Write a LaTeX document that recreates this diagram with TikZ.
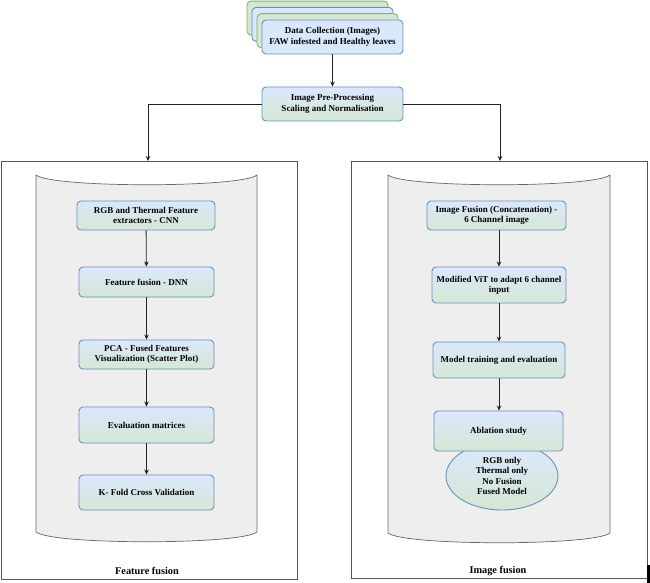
\documentclass[tikz,border=0pt]{standalone}
\usepackage{fontspec}
\setmainfont{Liberation Serif}
\usetikzlibrary{arrows.meta,shapes.geometric}
\definecolor{bluefill}{HTML}{DAE8FC}
\definecolor{blueline}{HTML}{6C8EBF}
\definecolor{greenfill}{HTML}{D5E8D4}
\definecolor{greenline}{HTML}{82B366}
\definecolor{cylfill}{HTML}{EEEEEE}
\definecolor{cylline}{HTML}{666666}
\definecolor{panelline}{HTML}{555555}
\definecolor{conn}{HTML}{222222}
\newcommand{\boxfont}{\fontsize{9}{10.4}\selectfont\bfseries}
\tikzset{
  x=1pt, y=-1pt,
  gbox/.style={draw=blueline, line width=0.9pt, rounded corners=4pt,
    top color=bluefill, bottom color=greenfill, align=center,
    font=\boxfont, inner sep=1pt},
  stackgreen/.style={draw=greenline, line width=0.9pt, rounded corners=4pt,
    fill=greenfill, minimum width=141pt, minimum height=34pt},
  stackblue/.style={draw=blueline, line width=0.9pt, rounded corners=4pt,
    fill=bluefill, minimum width=141pt, minimum height=34pt, align=center,
    font=\boxfont, inner sep=1pt},
  ovalbox/.style={ellipse, draw=blueline, line width=0.9pt,
    top color=bluefill, bottom color=greenfill, align=center,
    font=\boxfont, inner sep=0pt},
  cyl/.style={draw=cylline, line width=0.7pt, fill=cylfill},
  panel/.style={draw=panelline, line width=1pt},
  conn/.style={draw=conn, line width=0.8pt, -{Stealth[length=5pt,width=4.5pt]}},
  paneltitle/.style={font=\fontsize{10.3}{12}\selectfont\bfseries}
}
\begin{document}
\begin{tikzpicture}
\useasboundingbox (0,0) rectangle (650,583);
% panels
\draw[panel] (1,161) rectangle (297,579);
\draw[panel] (351,161) rectangle (647,578);
% cylinders
\draw[cyl] (36,175) .. controls (52,188) and (241,188) .. (257,175) -- (257,532)
  .. controls (241,545) and (52,545) .. (36,532) -- cycle;
\draw[cyl] (388,175) .. controls (404,188) and (594,188) .. (610,175) -- (610,533)
  .. controls (594,546) and (404,546) .. (388,533) -- cycle;
% artifact bar
\fill[black] (647,565) rectangle (650,583);
% stacked data boxes
\node[stackgreen] (s1) at (317.5,18.1) {};
\node[stackblue] (s2) at (322.5,24.4) {};
\node[stackgreen] (s3) at (327.5,30.7) {};
\node[stackblue] (data) at (332.5,37) {Data Collection (Images)\\FAW infested and Healthy leaves};
\node[gbox, minimum width=141pt, minimum height=34pt] (pre) at (332.5,104) {Image Pre-Processing\\Scaling and Normalisation};
% left column
\node[gbox, minimum width=138pt, minimum height=29pt] (l1) at (146,215.5) {RGB and Thermal Feature\\extractors - CNN};
\node[gbox, minimum width=135pt, minimum height=30pt] (l2) at (146.5,282) {Feature fusion - DNN};
\node[gbox, minimum width=135pt, minimum height=29pt] (l3) at (146.5,354.5) {PCA - Fused Features\\Visualization (Scatter Plot)};
\node[gbox, minimum width=135pt, minimum height=36pt] (l4) at (146.5,425) {Evaluation matrices};
\node[gbox, minimum width=135pt, minimum height=35pt] (l5) at (146.5,492.5) {K- Fold Cross Validation};
% right column
\node[gbox, minimum width=139pt, minimum height=29pt] (r1) at (496.5,215.5) {Image Fusion (Concatenation) -\\6 Channel image};
\node[gbox, minimum width=134pt, minimum height=36pt] (r2) at (499,285) {Modified ViT to adapt 6 channel\\input};
\node[gbox, minimum width=132pt, minimum height=36pt] (r3) at (499,360) {Model training and evaluation};
\node[ovalbox, minimum width=112pt, minimum height=68pt] (ov) at (502,476) {RGB only\\Thermal only\\No Fusion\\Fused Model};
\node[gbox, minimum width=129pt, minimum height=40pt] (r4) at (498.5,431) {Ablation study};
% titles
\node[paneltitle] (t1) at (147,571) {Feature fusion};
\node[paneltitle] (t2) at (498,571) {Image fusion};
% coordinates for panel tops
\coordinate (lp) at (148,161);
\coordinate (rp) at (500,161);
% connectors
\draw[conn] (data.south) -- (pre.north);
\draw[conn] (pre.west) -| (lp);
\draw[conn] (pre.east) -| (rp);
\draw[conn] (l1) -- (l2);
\draw[conn] (l2) -- (l3);
\draw[conn] (l3) -- (l4);
\draw[conn] (l4) -- (l5);
\draw[conn] (r1.south -| r2.north) -- (r2.north);
\draw[conn] (r2) -- (r3);
\draw[conn] (r3.south) -- (r3.south |- r4.north);
\end{tikzpicture}
\end{document}
